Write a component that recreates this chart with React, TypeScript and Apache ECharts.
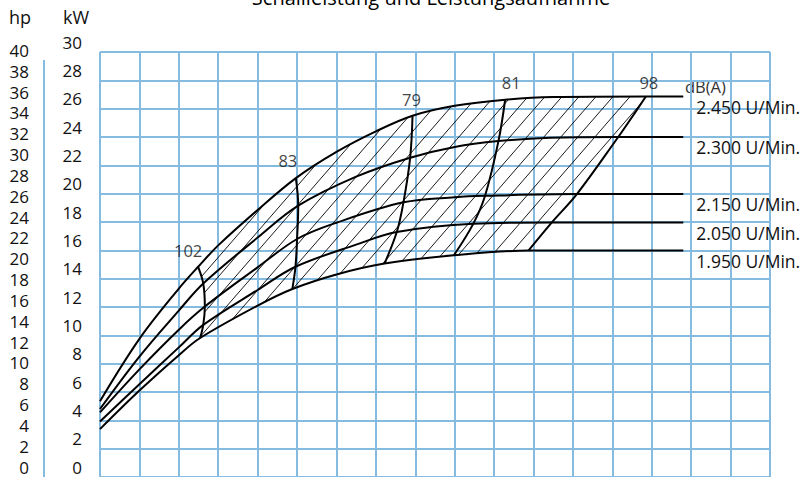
import React, { useEffect, useRef } from "react";
import * as echarts from "echarts";

// ---------- data ----------
const X_MAX = 17;
const KW_MAX = 30;
const HP_MAX = 40.8;
const AXIS_STEP = 2;

const speedNames = ["2.450 U/Min.", "2.300 U/Min.", "2.150 U/Min.", "2.050 U/Min.", "1.950 U/Min."];

const curve2450 = [[0, 5.35], [1, 9.75], [2, 13.3], [2.49, 14.84], [3, 16.35], [4, 18.85], [4.97, 21.1], [6, 22.95], [7, 24.4], [7.93, 25.5], [9, 26.2], [10.28, 26.63], [11.5, 26.82], [13.85, 26.86], [14.8, 26.86]];
const curve2300 = [[0, 4.8], [1, 8.5], [2, 11.75], [2.62, 13.66], [4, 16.9], [5.03, 19.15], [6.5, 21.2], [7.87, 22.54], [9, 23.3], [10.11, 23.71], [11.42, 23.95], [13.15, 24.0], [14.8, 24.0]];
const curve2150 = [[0, 4.56], [1, 7.6], [2, 10.4], [2.66, 12.03], [4, 14.8], [5.0, 16.8], [6, 17.95], [7.7, 19.39], [9, 19.75], [9.77, 19.85], [12.1, 19.97], [14.8, 19.97]];
const curve2050 = [[0, 3.92], [1, 6.55], [2, 9.15], [2.62, 10.74], [4, 13.2], [4.96, 14.84], [6.5, 16.4], [7.53, 17.29], [9.47, 17.87], [11.46, 17.96], [14.8, 17.96]];
const curve1950 = [[0, 3.38], [1, 6.1], [2, 8.6], [2.54, 9.81], [4, 12.1], [4.88, 13.27], [6, 14.3], [7.22, 15.07], [8.98, 15.65], [10.87, 15.98], [14.8, 15.98]];

const dbNames = ["102", "83", "79", "81", "98"];
const db102 = [[2.49, 14.84], [2.62, 13.66], [2.66, 12.03], [2.62, 10.74], [2.54, 9.81]];
const db83 = [[4.97, 21.1], [5.03, 19.15], [5.0, 16.8], [4.96, 14.84], [4.88, 13.27]];
const db79 = [[7.93, 25.5], [7.87, 22.54], [7.7, 19.39], [7.53, 17.29], [7.22, 15.07]];
const db81 = [[10.28, 26.63], [10.11, 23.71], [9.77, 19.85], [9.47, 17.87], [8.98, 15.65]];
const db98 = [[13.85, 26.86], [13.37, 24.88], [13.15, 24.0], [12.1, 19.97], [11.46, 17.96], [10.87, 15.98]];

const titleText = "Schallleistung und Leistungsaufnahme";
const unitText = "dB(A)";

// ---------- styles ----------
const FONT = '"Open Sans", "Noto Sans", sans-serif';
const GRID = "#86bbe0";
const INK = "#111";
const SMOOTH = 0.35;
const dbLabelOffsets = [[-10, -16], [-8, -18], [-1, -16], [6, -17], [3, -14]];

const speedCurves = [curve2450, curve2300, curve2150, curve2050, curve1950];
const dbLines = [db102, db83, db79, db81, db98];

function catmull(pts: number[][], n = 12): number[][] {
  const out: number[][] = [];
  for (let i = 0; i < pts.length - 1; i++) {
    const p0 = pts[i - 1] || pts[i];
    const p1 = pts[i];
    const p2 = pts[i + 1];
    const p3 = pts[i + 2] || pts[i + 1];
    for (let s = 0; s < n; s++) {
      const t = s / n, t2 = t * t, t3 = t2 * t;
      const f = (a: number, b: number, c: number, d: number) =>
        0.5 * (2 * b + (-a + c) * t + (2 * a - 5 * b + 4 * c - d) * t2 + (-a + 3 * b - 3 * c + d) * t3);
      out.push([f(p0[0], p1[0], p2[0], p3[0]), f(p0[1], p1[1], p2[1], p3[1])]);
    }
  }
  out.push(pts[pts.length - 1]);
  return out;
}

function hatchRender(_params: any, api: any) {
  const px = (arr: number[][]) => arr.map((p) => api.coord(p));
  const left = catmull(px(db102));
  const right = catmull(px(db98));
  const xL_top = left[0][0], xR_top = right[0][0];
  const xL_bot = left[left.length - 1][0], xR_bot = right[right.length - 1][0];
  const top = catmull(px(curve2450)).filter((p) => p[0] >= xL_top - 0.01 && p[0] <= xR_top + 0.01);
  const bot = catmull(px(curve1950)).filter((p) => p[0] >= xL_bot - 0.01 && p[0] <= xR_bot + 0.01).reverse();
  const poly = [...top, ...right, ...bot, ...left.slice().reverse()];
  const k = 1.15;
  const step = 17 * k;
  const cs = poly.map((p) => k * p[0] + p[1]);
  const cMin = Math.min(...cs), cMax = Math.max(...cs);
  const children: any[] = [];
  for (let C = Math.ceil(cMin / step) * step; C <= cMax; C += step) {
    const hits: number[][] = [];
    for (let i = 0; i < poly.length; i++) {
      const a = poly[i], b = poly[(i + 1) % poly.length];
      const fa = k * a[0] + a[1] - C, fb = k * b[0] + b[1] - C;
      if ((fa <= 0 && fb > 0) || (fa > 0 && fb <= 0)) {
        const t = fa / (fa - fb);
        hits.push([a[0] + (b[0] - a[0]) * t, a[1] + (b[1] - a[1]) * t]);
      }
    }
    hits.sort((u, v) => u[0] - v[0]);
    for (let j = 0; j + 1 < hits.length; j += 2) {
      children.push({
        type: "line",
        shape: { x1: hits[j][0], y1: hits[j][1], x2: hits[j + 1][0], y2: hits[j + 1][1] },
        style: { stroke: "#000", lineWidth: 0.9 },
      });
    }
  }
  return { type: "group", children };
}

export default function App() {
  const ref = useRef<HTMLDivElement>(null);
  useEffect(() => {
    if (!ref.current) return;
    const chart = echarts.init(ref.current, undefined, { renderer: "svg" });
    const series: any[] = [
      {
        type: "custom",
        name: "hatch",
        data: [[0, 0]],
        renderItem: hatchRender,
        silent: true,
        clip: false,
        z: 1,
      },
      ...speedCurves.map((d, i) => ({
        type: "line",
        name: speedNames[i],
        data: d,
        smooth: SMOOTH,
        symbol: "none",
        lineStyle: { color: "#000", width: 2 },
        z: 3,
        endLabel: {
          show: true,
          formatter: (p: any) => p.seriesName,
          distance: 13,
          offset: [0, i === 0 ? 11 : 10],
          fontSize: 17.5,
          lineHeight: 18,
          color: INK,
          fontFamily: FONT,
        },
      })),
      ...dbLines.map((d, i) => ({
        type: "line",
        name: dbNames[i] + " dB(A)",
        data: d,
        smooth: SMOOTH,
        symbol: "none",
        lineStyle: { color: "#000", width: 2 },
        z: 3,
      })),
      {
        type: "scatter",
        name: "dB labels",
        symbolSize: 1,
        itemStyle: { color: "rgba(0,0,0,0)" },
        z: 4,
        data: dbLines.map((d, i) => ({
          value: d[0],
          label: {
            show: true,
            formatter: dbNames[i],
            position: "inside",
            offset: dbLabelOffsets[i],
            fontSize: 16.5,
            lineHeight: 18,
            color: INK,
            fontFamily: FONT,
          },
        })),
      },
    ];
    chart.setOption({
      animation: false,
      textStyle: { fontFamily: FONT },
      grid: { left: 100, right: 38, top: 52, bottom: -3 },
      xAxis: {
        type: "value",
        min: 0,
        max: X_MAX,
        interval: 1,
        axisLine: { show: false },
        axisTick: { show: false },
        axisLabel: { show: false },
        splitLine: { show: true, showMinLine: true, showMaxLine: true, lineStyle: { color: GRID, width: 2 } },
      },
      yAxis: [
        {
          type: "value",
          min: 0,
          max: KW_MAX,
          interval: AXIS_STEP,
          position: "left",
          axisLine: { show: false },
          axisTick: { show: false },
          axisLabel: { fontSize: 17, color: INK, margin: 18, verticalAlign: "bottom", lineHeight: 20, showMinLabel: true, fontFamily: FONT },
          splitLine: { show: true, showMinLine: true, showMaxLine: true, lineStyle: { color: GRID, width: 2 } },
        },
        {
          type: "value",
          min: 0,
          max: HP_MAX,
          interval: AXIS_STEP,
          position: "left",
          offset: 56,
          axisLine: { show: false },
          axisTick: { show: false },
          splitLine: { show: false },
          axisLabel: {
            fontSize: 17,
            color: INK,
            margin: 15,
            verticalAlign: "bottom",
            lineHeight: 20,
            showMinLabel: true,
            showMaxLabel: false,
            interval: 0,
            fontFamily: FONT,
          },
        },
      ],
      graphic: [
        { type: "text", x: 431, y: -3, style: { text: titleText, fontSize: 20, fontFamily: FONT, fill: "#000", align: "center", verticalAlign: "middle" } },
        { type: "text", x: 20, y: 17, style: { text: "hp", fontSize: 18, fontFamily: FONT, fill: INK, align: "center", verticalAlign: "middle" } },
        { type: "text", x: 76, y: 17, style: { text: "kW", fontSize: 18, fontFamily: FONT, fill: INK, align: "center", verticalAlign: "middle" } },
        { type: "text", x: 685, y: 86, style: { text: unitText, fontSize: 16.5, lineHeight: 16, fontFamily: FONT, fill: "#333", align: "left", verticalAlign: "middle" } },
        { type: "line", shape: { x1: 44, y1: 60, x2: 44, y2: 477 }, style: { stroke: GRID, lineWidth: 2 } },
      ],
      series,
    });
    return () => chart.dispose();
  }, []);
  return <div ref={ref} style={{ position: "absolute", left: 0, top: 0, width: 808, height: 477 }} />;
}
